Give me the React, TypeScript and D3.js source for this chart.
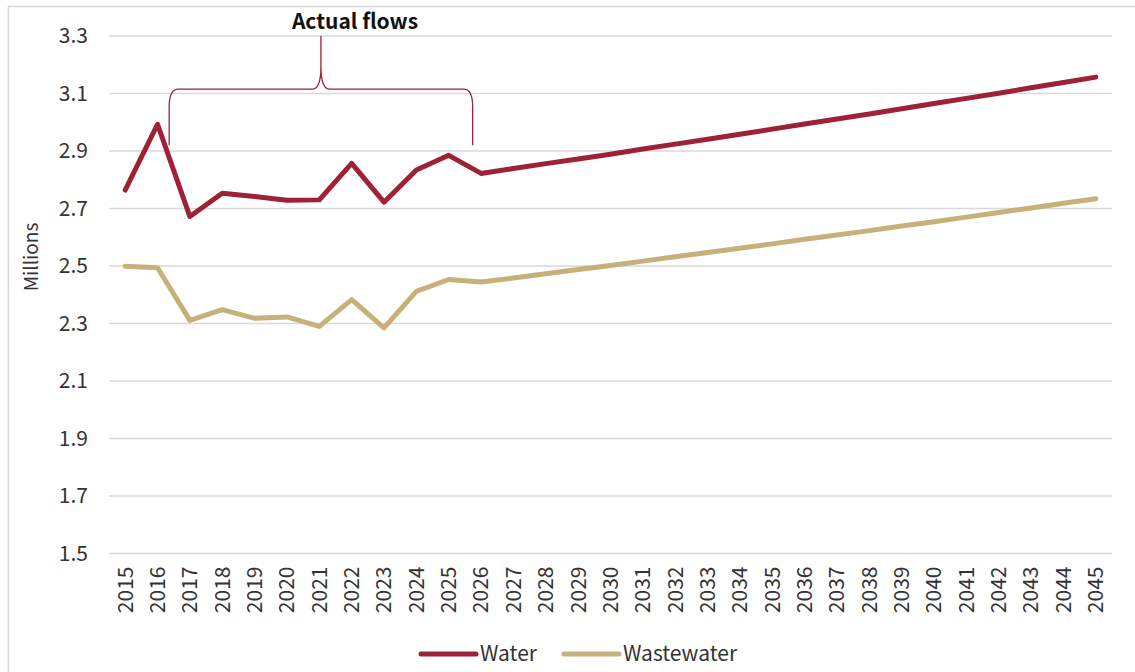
import React from "react";
import * as d3 from "d3";

// Years on the category axis
const years: number[] = [
  2015, 2016, 2017, 2018, 2019, 2020, 2021, 2022, 2023, 2024, 2025, 2026,
  2027, 2028, 2029, 2030, 2031, 2032, 2033, 2034, 2035, 2036, 2037, 2038,
  2039, 2040, 2041, 2042, 2043, 2044, 2045,
];

// Water flows (millions)
const water: number[] = [
  2.764, 2.993, 2.672, 2.753, 2.742, 2.729, 2.730, 2.857, 2.722, 2.834, 2.885, 2.822,
  2.839, 2.856, 2.872, 2.889, 2.907, 2.924, 2.941, 2.958, 2.976, 2.994, 3.011, 3.029,
  3.047, 3.065, 3.083, 3.101, 3.120, 3.138, 3.157,
];

// Wastewater flows (millions)
const wastewater: number[] = [
  2.499, 2.494, 2.311, 2.348, 2.318, 2.323, 2.290, 2.383, 2.285, 2.412, 2.453, 2.444,
  2.458, 2.473, 2.488, 2.502, 2.517, 2.532, 2.547, 2.562, 2.577, 2.593, 2.608, 2.623,
  2.639, 2.654, 2.670, 2.686, 2.702, 2.718, 2.734,
];

const yTicks: number[] = [1.5, 1.7, 1.9, 2.1, 2.3, 2.5, 2.7, 2.9, 3.1, 3.3];

const seriesNames: string[] = ["Water", "Wastewater"];
const seriesColors: string[] = ["#9e2136", "#c8b07a"];

// Span of the "Actual flows" bracket, in fractional year units
const actualStart = 2016.36;
const actualEnd = 2025.74;
const annotation = "Actual flows";

const FONT = "'Noto Sans CJK JP', 'Noto Sans', sans-serif";

export default function App() {
  const W = 1135;
  const H = 672;
  const left = 109;
  const right = 1112;
  const top = 36;
  const bottom = 553.5;

  const x = d3
    .scaleBand<number>()
    .domain(years)
    .range([left, right])
    .paddingInner(0)
    .paddingOuter(0);
  const cx = (yr: number) => (x(yr) as number) + x.bandwidth() / 2;
  // continuous helper for fractional years
  const xc = d3
    .scaleLinear()
    .domain([years[0], years[years.length - 1]])
    .range([cx(years[0]), cx(years[years.length - 1])]);

  const y = d3.scaleLinear().domain([1.5, 3.3]).range([bottom, top]);

  const line = d3
    .line<number>()
    .x((_, i) => cx(years[i]))
    .y((d) => y(d));

  const series = [water, wastewater];

  // curly bracket above the actual flows
  const bx0 = xc(actualStart);
  const bx1 = xc(actualEnd);
  const bmid = (bx0 + bx1) / 2;
  const legBottom = y(2.92);
  const barY = y(3.115);
  const tipY = y(3.3);
  const r = 9;
  const bracePath = [
    `M${bx0},${legBottom}`,
    `L${bx0},${barY + r * 2}`,
    `Q${bx0},${barY} ${bx0 + r},${barY}`,
    `L${bmid - r},${barY}`,
    `Q${bmid},${barY} ${bmid},${barY - r * 2.5}`,
    `L${bmid},${tipY}`,
    `M${bmid},${barY - r * 2.5}`,
    `Q${bmid},${barY} ${bmid + r},${barY}`,
    `L${bx1 - r},${barY}`,
    `Q${bx1},${barY} ${bx1},${barY + r * 2}`,
    `L${bx1},${legBottom}`,
  ].join(" ");

  return (
    <svg
      width={W}
      height={H}
      style={{ position: "absolute", left: 0, top: 0, background: "#fff" }}
      fontFamily={FONT}
    >
      <rect x={8.5} y={6.5} width={W} height={H + 20} fill="#fff" stroke="#d9d9d9" strokeWidth={1.5} />

      {/* horizontal gridlines and value labels */}
      {yTicks.map((t) => (
        <g key={t}>
          <line x1={left} x2={right} y1={y(t)} y2={y(t)} stroke="#d9d9d9" strokeWidth={1.5} />
          <text
            x={88}
            y={y(t)}
            dy="0.35em"
            textAnchor="end"
            fontSize={21}
            fill="#333"
          >
            {t.toFixed(1)}
          </text>
        </g>
      ))}

      {/* year labels */}
      {years.map((yr) => (
        <text
          key={yr}
          transform={`translate(${cx(yr)},${bottom + 13}) rotate(-90)`}
          textAnchor="end"
          dy="0.35em"
          fontSize={21}
          fill="#333"
        >
          {yr}
        </text>
      ))}

      <text
        transform={`translate(31,257) rotate(-90)`}
        textAnchor="middle"
        dy="0.35em"
        fontSize={19}
        fill="#333"
      >
        Millions
      </text>

      {/* bracket annotation */}
      <path d={bracePath} fill="none" stroke="#9e2136" strokeWidth={1.3} />
      <text x={355} y={22} dy="0.35em" textAnchor="middle" fontSize={21} fontWeight="bold" fill="#111">
        {annotation}
      </text>

      {/* series lines */}
      {series.map((s, i) => (
        <path
          key={seriesNames[i]}
          d={line(s) || ""}
          fill="none"
          stroke={seriesColors[i]}
          strokeWidth={5}
          strokeLinejoin="round"
          strokeLinecap="round"
        />
      ))}

      {/* legend */}
      {seriesNames.map((name, i) => {
        const lx = i === 0 ? 421 : 564;
        return (
          <g key={name}>
            <line
              x1={lx}
              x2={lx + 55}
              y1={654}
              y2={654}
              stroke={seriesColors[i]}
              strokeWidth={5}
              strokeLinecap="round"
            />
            <text x={lx + 59} y={654} dy="0.35em" fontSize={21} fill="#333">
              {name}
            </text>
          </g>
        );
      })}
    </svg>
  );
}
